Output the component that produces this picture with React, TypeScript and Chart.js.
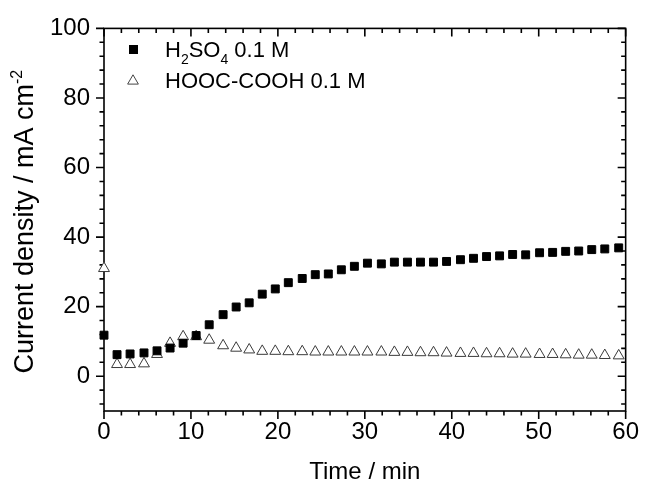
import React, { useEffect, useRef } from 'react';
import { Chart, registerables } from 'chart.js';

Chart.register(...registerables);

// Time (min) of each recorded point
const timeMin = [
  0, 1.5, 3.0, 4.6, 6.1, 7.6, 9.1, 10.6, 12.1, 13.7,
  15.2, 16.7, 18.2, 19.7, 21.2, 22.8, 24.3, 25.8, 27.3, 28.8,
  30.3, 31.9, 33.4, 34.9, 36.4, 37.9, 39.4, 41.0, 42.5, 44.0,
  45.5, 47.0, 48.5, 50.1, 51.6, 53.1, 54.6, 56.1, 57.6, 59.2,
];

// H2SO4 0.1 M current density (mA cm-2)
const h2so4 = [
  11.8, 6.2, 6.4, 6.7, 7.3, 8.1, 9.5, 11.7, 14.8, 17.7,
  19.9, 21.1, 23.6, 25.1, 26.9, 28.1, 29.2, 29.4, 30.6, 31.6,
  32.5, 32.3, 32.8, 32.8, 32.8, 32.8, 33.0, 33.5, 33.9, 34.4,
  34.6, 35.0, 34.9, 35.5, 35.6, 35.9, 36.0, 36.4, 36.6, 36.9,
];

// HOOC-COOH 0.1 M current density (mA cm-2)
const oxalic = [
  31.0, 3.4, 3.4, 3.6, 6.3, 9.5, 11.4, 11.4, 10.4, 8.8,
  8.1, 7.6, 7.2, 7.2, 7.1, 7.1, 7.0, 7.0, 7.0, 7.0,
  7.0, 7.0, 6.9, 6.9, 6.8, 6.8, 6.7, 6.6, 6.6, 6.5,
  6.5, 6.4, 6.4, 6.3, 6.3, 6.2, 6.1, 6.1, 6.0, 5.9,
];

const xTicks = [0, 10, 20, 30, 40, 50, 60];
const yTicks = [0, 20, 40, 60, 80, 100];

const xTitle = 'Time / min';
const yTitleMain = 'Current density / mA cm';
const yTitleSup = '-2';

const FONT = '"Liberation Sans", Arial, Helvetica, sans-serif';

const framePlugin = {
  id: 'originFrame',
  beforeDatasetsDraw(chart: any) {
    const { ctx, chartArea: a, scales } = chart;
    const xs = scales.x;
    const ys = scales.y;
    ctx.save();
    ctx.strokeStyle = '#000';
    ctx.lineWidth = 1.6;
    ctx.strokeRect(a.left, a.top, a.right - a.left, a.bottom - a.top);
    const MAJ = 8;
    const MIN = 4.5;
    ctx.beginPath();
    for (let v = 0; v <= 60.001; v += 2) {
      const px = xs.getPixelForValue(v);
      const len = Math.abs(v % 10) < 1e-6 ? MAJ : MIN;
      ctx.moveTo(px, a.bottom);
      ctx.lineTo(px, a.bottom + len);
      ctx.moveTo(px, a.top);
      ctx.lineTo(px, a.top + len);
    }
    for (let v = -8; v <= 100.001; v += 4) {
      const py = ys.getPixelForValue(v);
      const len = Math.abs(v % 20) < 1e-6 ? MAJ : MIN;
      ctx.moveTo(a.left, py);
      ctx.lineTo(a.left - len, py);
      ctx.moveTo(a.right, py);
      ctx.lineTo(a.right - len, py);
    }
    ctx.stroke();
    ctx.restore();
  },
  afterDraw(chart: any) {
    const { ctx, chartArea: a } = chart;
    ctx.save();
    ctx.fillStyle = '#000';

    // x title
    ctx.font = `24px ${FONT}`;
    ctx.textAlign = 'center';
    ctx.textBaseline = 'alphabetic';
    ctx.fillText(xTitle, (a.left + a.right) / 2, 479);

    // y title (rotated) with superscript
    const mainFont = `27px ${FONT}`;
    const supFont = `16px ${FONT}`;
    ctx.font = mainFont;
    const wMain = ctx.measureText(yTitleMain).width;
    ctx.font = supFont;
    const wSup = ctx.measureText(yTitleSup).width;
    const total = wMain + wSup;
    const cy = (a.top + a.bottom) / 2 + 2;
    ctx.translate(33, cy);
    ctx.rotate(-Math.PI / 2);
    ctx.textAlign = 'left';
    ctx.font = mainFont;
    ctx.fillText(yTitleMain, -total / 2, 0);
    ctx.font = supFont;
    ctx.fillText(yTitleSup, -total / 2 + wMain, -11);
    ctx.setTransform(1, 0, 0, 1, 0, 0);

    // legend markers
    ctx.fillStyle = '#000';
    ctx.fillRect(129, 45, 9, 9);
    const tr = 6.2;
    const tx = 133;
    const ty = 81;
    ctx.beginPath();
    ctx.moveTo(tx, ty - tr);
    ctx.lineTo(tx + tr * 0.866, ty + tr * 0.5);
    ctx.lineTo(tx - tr * 0.866, ty + tr * 0.5);
    ctx.closePath();
    ctx.fillStyle = '#fff';
    ctx.fill();
    ctx.strokeStyle = '#444';
    ctx.lineWidth = 1;
    ctx.stroke();

    // legend text with subscripts
    ctx.fillStyle = '#000';
    ctx.textAlign = 'left';
    const big = `22px ${FONT}`;
    const small = `14px ${FONT}`;
    let x = 165;
    const parts: [string, boolean][] = [['H', false], ['2', true], ['SO', false], ['4', true], [' 0.1 M', false]];
    for (const [t, sub] of parts) {
      ctx.font = sub ? small : big;
      ctx.fillText(t, x, sub ? 64 : 57);
      x += ctx.measureText(t).width;
    }
    ctx.font = big;
    ctx.fillText('HOOC-COOH 0.1 M', 165, 88);
    ctx.restore();
  },
};

export default function App() {
  const canvasRef = useRef<HTMLCanvasElement | null>(null);

  useEffect(() => {
    if (!canvasRef.current) return;
    const chart = new Chart(canvasRef.current, {
      type: 'scatter',
      data: {
        datasets: [
          {
            label: 'H2SO4 0.1 M',
            data: timeMin.map((t, i) => ({ x: t, y: h2so4[i] })),
            pointStyle: 'rect',
            pointRadius: 5.6,
            backgroundColor: '#000',
            borderColor: '#000',
            borderWidth: 1,
            showLine: false,
            clip: false,
          } as any,
          {
            label: 'HOOC-COOH 0.1 M',
            data: timeMin.map((t, i) => ({ x: t, y: oxalic[i] })),
            pointStyle: 'triangle',
            pointRadius: 6.3,
            backgroundColor: '#fff',
            borderColor: '#3a3a3a',
            borderWidth: 1,
            showLine: false,
            clip: false,
          } as any,
        ],
      },
      options: {
        animation: false,
        responsive: true,
        maintainAspectRatio: false,
        layout: { padding: { left: 0, right: 17, top: 24, bottom: 0 } },
        plugins: {
          legend: { display: false },
          tooltip: { enabled: false },
        },
        scales: {
          x: {
            type: 'linear',
            min: 0,
            max: 60,
            grid: { display: false, drawTicks: false },
            border: { display: false },
            ticks: {
              font: { family: FONT, size: 24 },
              color: '#000',
              padding: 7,
              maxRotation: 0,
            },
            afterBuildTicks: (s: any) => {
              s.ticks = xTicks.map((v) => ({ value: v }));
            },
            afterFit: (s: any) => {
              s.height = 73;
            },
          },
          y: {
            type: 'linear',
            min: -10,
            max: 100,
            grid: { display: false, drawTicks: false },
            border: { display: false },
            ticks: {
              font: { family: FONT, size: 24 },
              color: '#000',
              padding: 14,
            },
            afterBuildTicks: (s: any) => {
              s.ticks = yTicks.map((v) => ({ value: v }));
            },
            afterFit: (s: any) => {
              s.width = 104;
            },
          },
        },
      } as any,
      plugins: [framePlugin],
    });
    return () => chart.destroy();
  }, []);

  return (
    <div style={{ position: 'fixed', left: 0, top: 0, width: 646, height: 484, background: '#fff' }}>
      <canvas ref={canvasRef} />
    </div>
  );
}
